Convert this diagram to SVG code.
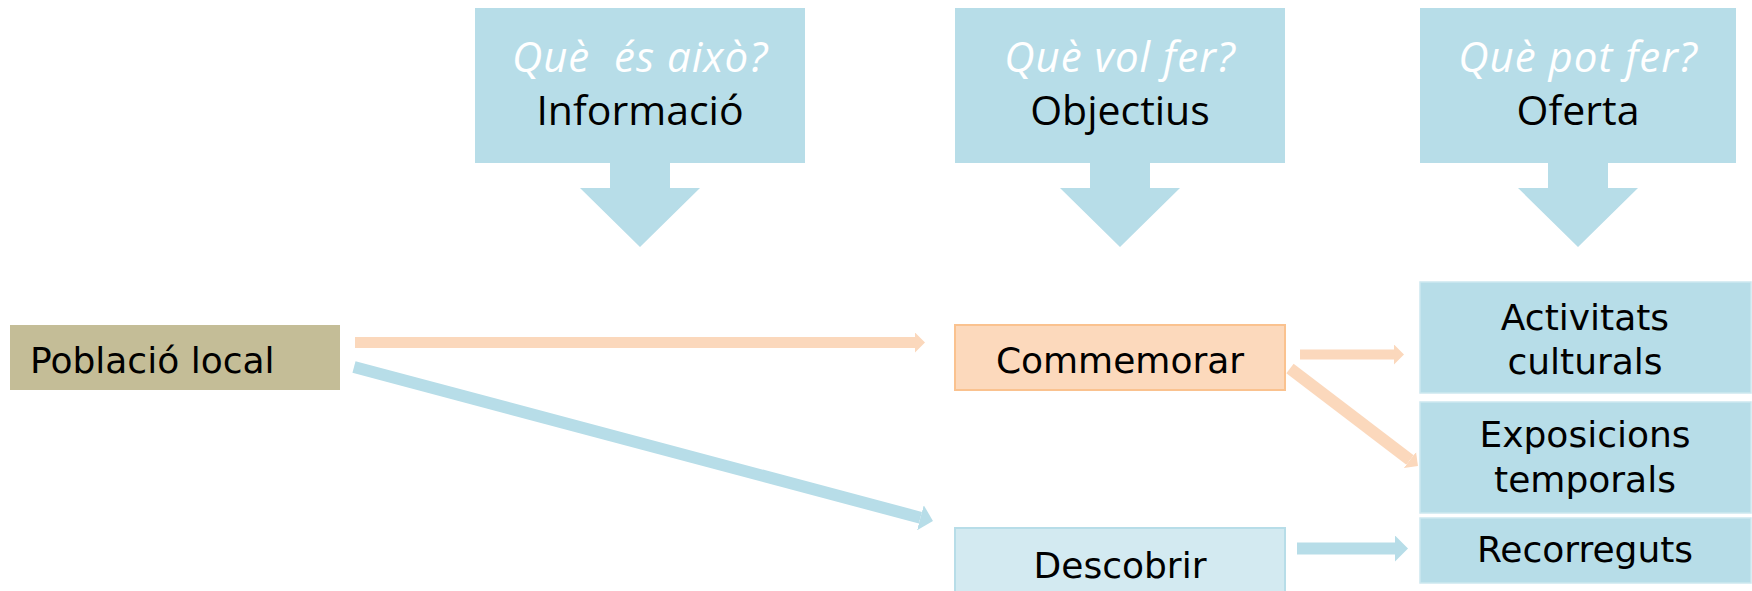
<svg xmlns="http://www.w3.org/2000/svg" width="1752" height="591" viewBox="0 0 1752 591">
<style>
.callout{fill:#B7DDE8}
.q{font-family:"Open Sans","DejaVu Sans",sans-serif;font-style:italic;font-size:42px;letter-spacing:1px;fill:#ffffff;text-anchor:middle;white-space:pre}
.h{font-family:"Open Sans","DejaVu Sans",sans-serif;font-size:41px;fill:#000;text-anchor:middle}
.t{font-family:"DejaVu Sans","Liberation Sans",sans-serif;font-size:36px;fill:#000;text-anchor:middle}
.box{fill:#B7DDE8;stroke:#cde8ef;stroke-width:1.5}
.ao{stroke:#FBD8BC;fill:none;stroke-linecap:butt}
.ab{stroke:#B7DDE8;fill:none;stroke-linecap:butt}
</style>
<defs>
<marker id="mo" markerUnits="userSpaceOnUse" markerWidth="10" markerHeight="20" viewBox="0 0 10 20" refX="0" refY="10" orient="auto"><path d="M0,0 L10,10 L0,20 Z" fill="#FBD8BC"/></marker>
<marker id="mb" markerUnits="userSpaceOnUse" markerWidth="13" markerHeight="26" viewBox="0 0 13 26" refX="0" refY="13" orient="auto"><path d="M0,0 L13,13 L0,26 Z" fill="#B7DDE8"/></marker>
</defs>
<rect width="1752" height="591" fill="#ffffff"/>
<g id="callout-informacio">
<path class="callout" d="M475,8 H805 V163 H670 V188 H700 L640,247 L580,188 H610 V163 H475 Z"/>
<text class="q" x="640" y="72">Què  és això?</text>
<text class="h" x="640" y="125">Informació</text>
</g>
<g id="callout-objectius">
<path class="callout" d="M955,8 H1285 V163 H1150 V188 H1180 L1120,247 L1060,188 H1090 V163 H955 Z"/>
<text class="q" x="1120" y="72">Què vol fer?</text>
<text class="h" x="1120" y="125">Objectius</text>
</g>
<g id="callout-oferta">
<path class="callout" d="M1420,8 H1736 V163 H1608 V188 H1638 L1578,247 L1518,188 H1548 V163 H1420 Z"/>
<text class="q" x="1578" y="72">Què pot fer?</text>
<text class="h" x="1578" y="125">Oferta</text>
</g>
<g id="poblacio-local">
<rect x="10" y="325" width="330" height="65" fill="#C4BD97"/>
<text class="t" x="30" y="373" style="text-anchor:start">Població local</text>
</g>
<g id="commemorar">
<rect x="955" y="325" width="330" height="65" fill="#FCD9BC" stroke="#FAC28F" stroke-width="2"/>
<text class="t" x="1120" y="373">Commemorar</text>
</g>
<g id="descobrir">
<rect x="955" y="528" width="330" height="70" fill="#D3EAF1" stroke="#B7DDE8" stroke-width="2"/>
<text class="t" x="1120" y="578">Descobrir</text>
</g>
<g id="activitats-culturals">
<rect class="box" x="1420" y="282" width="331" height="111"/>
<text class="t" x="1585" y="330">Activitats</text>
<text class="t" x="1585" y="374">culturals</text>
</g>
<g id="exposicions-temporals">
<rect class="box" x="1420" y="402" width="331" height="111"/>
<text class="t" x="1585" y="447">Exposicions</text>
<text class="t" x="1585" y="492">temporals</text>
</g>
<g id="recorreguts">
<rect class="box" x="1420" y="518" width="331" height="65"/>
<text class="t" x="1585" y="562">Recorreguts</text>
</g>
<g id="connectors">
<line class="ao" x1="355" y1="342.5" x2="915" y2="342.5" stroke-width="11" marker-end="url(#mo)"/>
<line class="ab" x1="354" y1="367" x2="920.4" y2="517.7" stroke-width="12" marker-end="url(#mb)"/>
<line class="ao" x1="1300" y1="354.5" x2="1394" y2="354.5" stroke-width="10" marker-end="url(#mo)"/>
<line class="ao" x1="1290" y1="368.5" x2="1410" y2="460" stroke-width="12" marker-end="url(#mo)"/>
<line class="ab" x1="1297" y1="548.5" x2="1395" y2="548.5" stroke-width="12" marker-end="url(#mb)"/>
</g>
</svg>
